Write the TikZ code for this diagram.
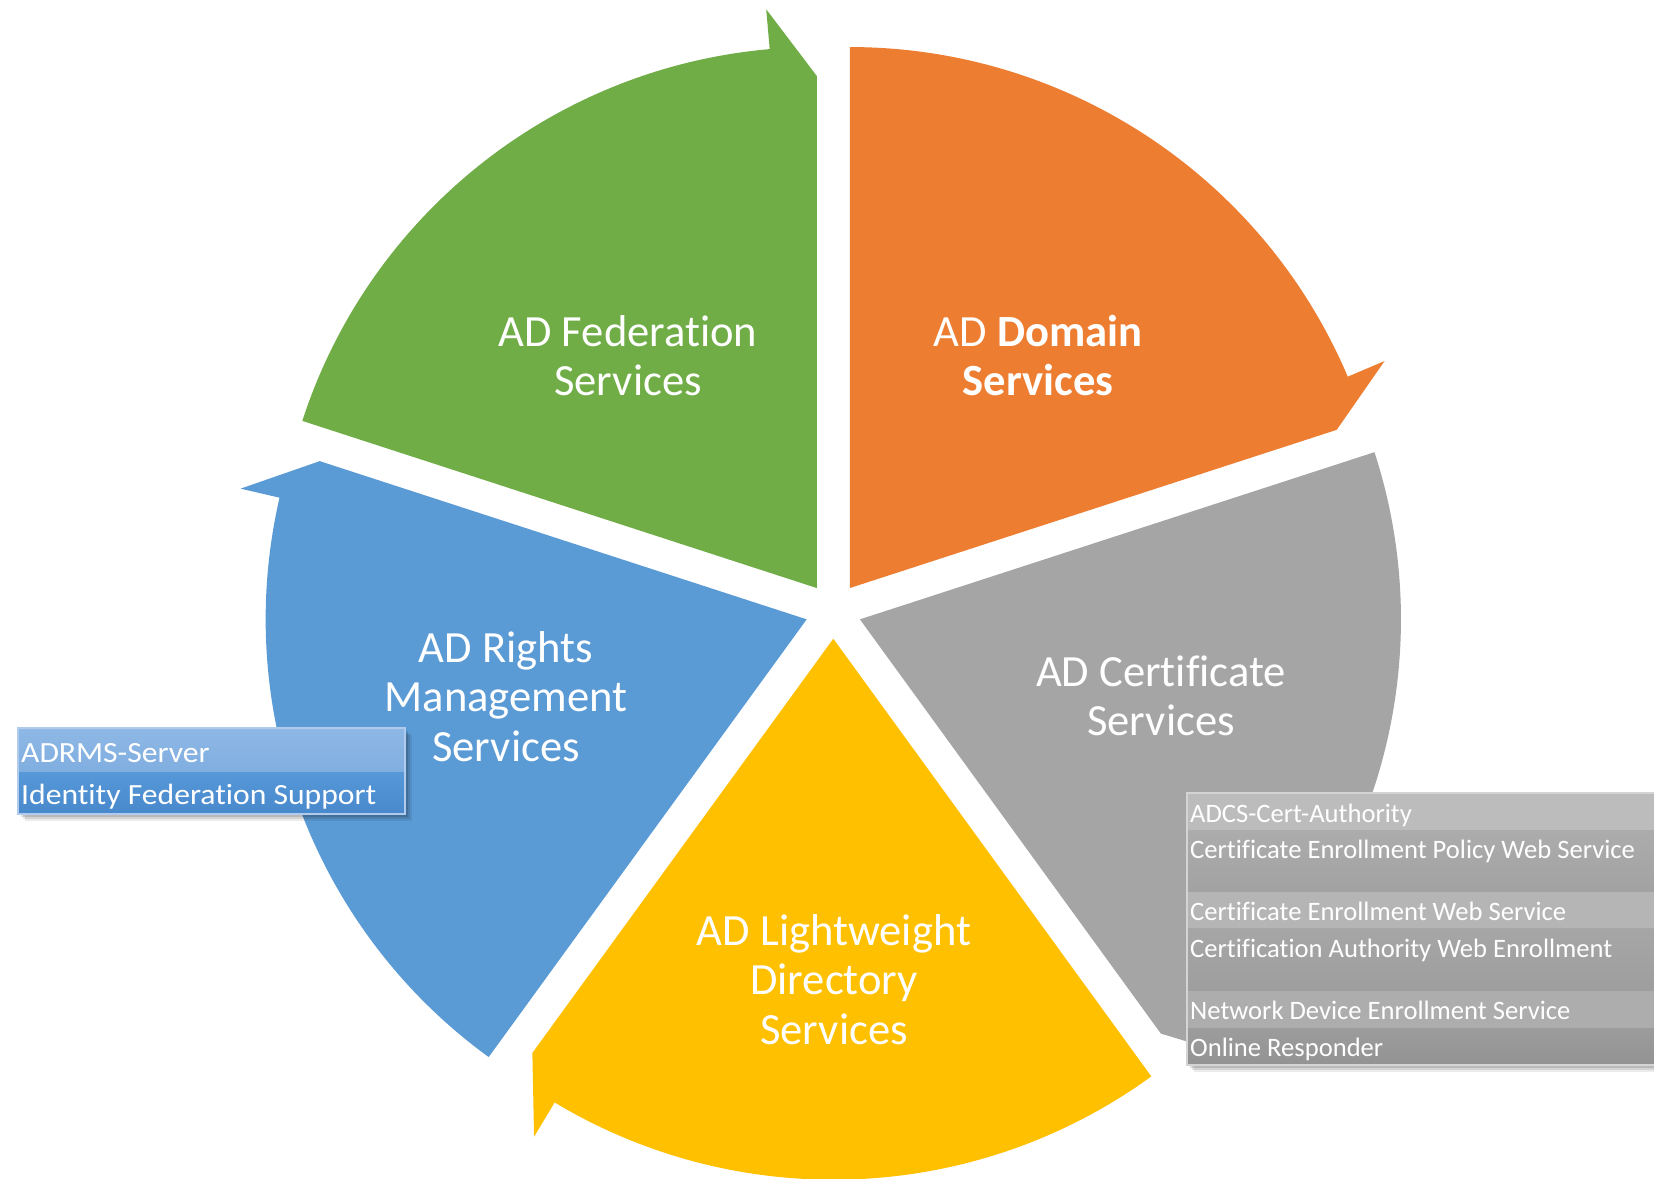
\documentclass[tikz,border=0pt]{standalone}
\usepackage{fontspec}
\setmainfont{Carlito}[RawFeature={-liga;-clig}]
\newfontfamily\boxfont[FakeStretch=1.08,RawFeature={-liga;-clig}]{Carlito}
\usetikzlibrary{calc}
\definecolor{cgreen}{HTML}{70AD47}
\definecolor{corange}{HTML}{ED7D31}
\definecolor{cgray}{HTML}{A5A5A5}
\definecolor{cyellow}{HTML}{FFC000}
\definecolor{cblue}{HTML}{5B9BD5}
\tikzset{
  lbl/.style={text=white, font=\fontsize{44.6}{49.5}\selectfont, align=center, inner sep=0pt, anchor=north},
  graytxt/.style={text=white, font=\fontsize{26.6}{30}\selectfont, inner sep=0pt, anchor=base west},
  bluetxt/.style={text=white, font=\boxfont\fontsize{29.3}{33}\selectfont, inner sep=0pt, anchor=base west},
}
\begin{document}
\begin{tikzpicture}[x=1pt,y=1pt]
\useasboundingbox (0,0) rectangle (1654,-1178);
\fill[white] (0,0) rectangle (1654,-1178);
\coordinate (C) at (833.3,-610.7);
% wedges with arrow heads
\foreach \s/\col in {90/corange,18/cgray,306/cyellow,234/cblue,162/cgreen}{
  \pgfmathsetmacro\e{\s-72}
  \pgfmathsetmacro\b{\s-36}
  \pgfmathsetmacro\eb{\s-67}
  \coordinate (V) at ($(C)+(\b:28)$);
  \fill[\col] (V) -- ($(V)+(\s:541)$) arc[start angle=\s, end angle=\eb, radius=541]
     -- ($(V)+(\eb:581)$) -- ($(V)+(\e:512)$) -- cycle;
}
% labels
\node[lbl] (fed) at (628,-311.4) {\strut AD Federation\\\strut Services};
\node[lbl] (dom) at (1038,-311.4) {\strut AD \textbf{Domain}\\\strut\textbf{Services}};
\node[lbl] (cert) at (1161,-651.4) {\strut AD Certificate\\\strut Services};
\node[lbl] (rights) at (506,-627.4) {\strut AD Rights\\\strut Management\\\strut Services};
\node[lbl] (lds) at (834,-910.4) {\strut AD Lightweight\\\strut Directory\\\strut Services};
% blue box
\foreach \o/\op in {7/0.08,5/0.1,3/0.12}{
  \fill[black,opacity=\op] (18+\o,-728-\o) rectangle (405+\o,-814-\o);
}
\shade[top color={rgb,255:red,142;green,184;blue,229}, bottom color={rgb,255:red,128;green,174;blue,224}] (18,-728) rectangle (405,-772);
\shade[top color={rgb,255:red,86;green,152;blue,216}, bottom color={rgb,255:red,72;green,136;blue,204}] (18,-772) rectangle (405,-814);
\draw[color={rgb,255:red,176;green,203;blue,235}, line width=1.5pt] (18,-728) rectangle (405,-814);
\node[bluetxt] (b1) at (21,-762) {ADRMS-Server};
\node[bluetxt] (b2) at (21,-804) {Identity Federation Support};
% gray box
\foreach \o/\op in {7/0.08,5/0.1,3/0.12}{
  \fill[black,opacity=\op] (1187+\o,-793-\o) rectangle (1670,-1065-\o);
}
\fill[color={rgb,255:red,188;green,188;blue,188}] (1187,-793) rectangle (1670,-830);
\shade[top color={rgb,255:red,172;green,172;blue,172}, bottom color={rgb,255:red,162;green,162;blue,162}] (1187,-830) rectangle (1670,-892);
\fill[color={rgb,255:red,181;green,181;blue,181}] (1187,-892) rectangle (1670,-928);
\shade[top color={rgb,255:red,166;green,166;blue,166}, bottom color={rgb,255:red,158;green,158;blue,158}] (1187,-928) rectangle (1670,-991);
\fill[color={rgb,255:red,173;green,173;blue,173}] (1187,-991) rectangle (1670,-1028);
\shade[top color={rgb,255:red,156;green,156;blue,156}, bottom color={rgb,255:red,147;green,147;blue,147}] (1187,-1028) rectangle (1670,-1065);
\draw[color={rgb,255:red,212;green,212;blue,212}, line width=1.5pt] (1670,-793) -- (1187,-793) -- (1187,-1065) -- (1670,-1065);
\node[graytxt] (g1) at (1190,-822) {ADCS-Cert-Authority};
\node[graytxt] (g2) at (1190,-858) {Certificate Enrollment Policy Web Service};
\node[graytxt] (g3) at (1190,-920) {Certificate Enrollment Web Service};
\node[graytxt] (g4) at (1190,-957) {Certification Authority Web Enrollment};
\node[graytxt] (g5) at (1190,-1019) {Network Device Enrollment Service};
\node[graytxt] (g6) at (1190,-1056) {Online Responder};
\end{tikzpicture}
\end{document}
